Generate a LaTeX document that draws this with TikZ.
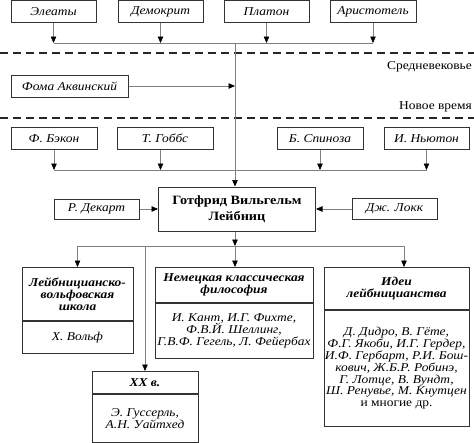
\documentclass[tikz,border=0pt]{standalone}
\usepackage{fontspec}
\setmainfont{Liberation Serif}[FakeStretch=1.12]
\usetikzlibrary{arrows.meta,positioning}
\newcommand{\boxfont}{\fontsize{12}{11.8}\selectfont\lineskiplimit=-10pt\relax}
\tikzstyle{person} = [rectangle, draw=black!80, line width=1pt, minimum height=22pt, inner sep=0pt, font=\boxfont\itshape]
\tikzstyle{head} = [rectangle, draw=black!80, line width=1pt, inner sep=0pt, align=center, font=\boxfont\bfseries\itshape]
\tikzstyle{body} = [rectangle, draw=black!80, line width=1pt, inner sep=0pt, align=center, font=\boxfont\itshape]
\tikzstyle{link} = [draw=black!50, line width=0.6pt, -{Triangle[width=5.5pt,length=6.5pt,color=black]}]
\tikzstyle{bus} = [draw=black!50, line width=0.6pt]
\tikzstyle{era} = [draw=black!85, line width=1.4pt, dash pattern=on 8pt off 5pt]
\tikzstyle{eralabel} = [anchor=east, inner sep=0pt, font=\boxfont]

\begin{document}
\begin{tikzpicture}[x=1pt,y=-1pt]
            \useasboundingbox (0,0) rectangle (474,442);
            \coordinate (trunk) at (235,0);
            \coordinate (bus1) at (0,43);
            \coordinate (bus2) at (0,170);
            \coordinate (bus3) at (0,246);
            \coordinate (tap) at (404,246);

            % antiquity
            \node [person, minimum width=85pt] (eleaty) at (53.5,11.8) {Элеаты};
            \node [person, minimum width=85pt] (demokrit) at (160.5,11.8) {Демокрит};
            \node [person, minimum width=85pt] (platon) at (266.5,11.8) {Платон};
            \node [person, minimum width=86pt] (aristotel) at (373,11.8) {Аристотель};

            \draw[link](eleaty) -- (eleaty |- bus1);
            \draw[link](demokrit) -- (demokrit |- bus1);
            \draw[link](platon) -- (platon |- bus1);
            \draw[link](aristotel) -- (aristotel |- bus1);
            \draw[bus](eleaty |- bus1) -- (aristotel |- bus1);

            % eras
            \draw[era] (0,53) -- (474,53);
            \draw[era] (0,118) -- (474,118);
            \node [eralabel] (middle) at (472,67) {Средневековье};
            \node [eralabel] (modern) at (472,107) {Новое время};

            \node [person, minimum width=117pt] (foma) at (69.5,86) {Фома Аквинский};
            \draw[link](foma) -- (foma -| trunk);

            % modern times
            \node [person, minimum width=86pt] (bacon) at (54,138.5) {Ф. Бэкон};
            \node [person, minimum width=96pt] (hobbes) at (165,138.5) {Т. Гоббс};
            \node [person, minimum width=86pt] (spinoza) at (320,138.5) {Б. Спиноза};
            \node [person, minimum width=85pt] (newton) at (426.5,138.5) {И. Ньютон};

            \draw[link](bacon) -- (bacon |- bus2);
            \draw[link](hobbes.south -| demokrit) -- (demokrit |- bus2);
            \draw[link](spinoza) -- (spinoza |- bus2);
            \draw[link](newton) -- (newton |- bus2);
            \draw[bus](bacon |- bus2) -- (newton |- bus2);

            \node [rectangle, draw=black!80, line width=1pt, minimum width=157pt, minimum height=44pt, inner sep=0pt, align=center, font=\fontsize{12.7}{16}\selectfont\bfseries] (leibniz) at (237,209) {Готфрид Вильгельм\\Лейбниц};
            \draw[link](bus1 -| trunk) -- (leibniz.north -| trunk);

            \node [person, minimum width=85pt, minimum height=20pt] (descartes) at (96.5,209) {Р. Декарт};
            \node [person, minimum width=85pt, minimum height=21pt] (locke) at (394.5,209) {Дж. Локк};
            \draw[link](descartes) -- (leibniz);
            \draw[link](locke) -- (leibniz);

            % followers
            \node [head, minimum width=111pt, minimum height=53pt, anchor=north] (schoolhead) at (77.5,267) {Лейбницианско-\\вольфовская\\школа};
            \node [body, minimum width=111pt, minimum height=32pt, below=0pt of schoolhead] (schoolbody) {Х. Вольф};

            \node [head, minimum width=158pt, minimum height=35pt, anchor=north] (germanhead) at (234,267) {Немецкая классическая\\философия};
            \node [body, minimum width=158pt, minimum height=55pt, below=0pt of germanhead] (germanbody) {И. Кант, И.Г. Фихте,\\Ф.В.Й. Шеллинг,\\Г.В.Ф. Гегель, Л. Фейербах};

            \node [head, minimum width=145pt, minimum height=42pt, anchor=north] (ideashead) at (396.5,267) {Идеи\\лейбницианства};
            \node [body, minimum width=145pt, minimum height=116pt, below=0pt of ideashead] (ideasbody) {Д. Дидро, В. Гёте,\\Ф.Г. Якоби, И.Г. Гердер,\\И.Ф. Гербарт, Р.И. Бош-\\кович, Ж.Б.Р. Робинэ,\\Г. Лотце, В. Вундт,\\Ш. Ренувье, М. Кнутцен\\{\upshape и многие др.}};

            \node [head, minimum width=106pt, minimum height=22pt, anchor=north] (xxhead) at (145,371) {XX в.};
            \node [body, minimum width=106pt, minimum height=48pt, below=0pt of xxhead] (xxbody) {Э. Гуссерль,\\А.Н. Уайтхед};

            \draw[link](leibniz.south -| trunk) -- (bus3 -| trunk);
            \draw[bus](bus3 -| schoolhead) -- (tap);
            \draw[link](bus3 -| schoolhead) -- (schoolhead);
            \draw[link](bus3 -| xxhead) -- (xxhead);
            \draw[link](bus3 -| trunk) -- (germanhead.north -| trunk);
            \draw[link](tap) -- (tap |- ideashead.north);
        \end{tikzpicture}
\end{document}
